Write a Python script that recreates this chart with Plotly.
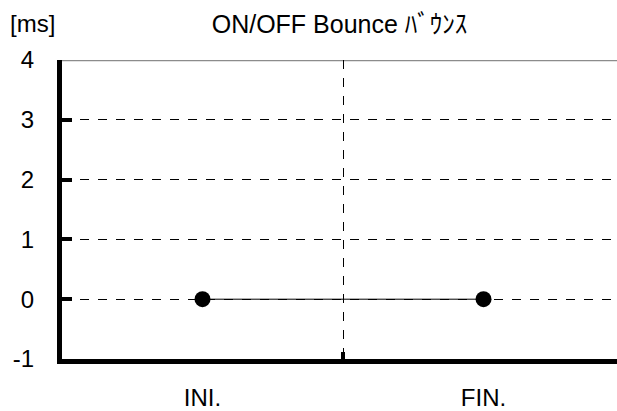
import plotly.graph_objects as go

# data
categories = ['INI.', 'FIN.']
x_pos = [0, 1]
bounce_ms = [0, 0]
y_ticks = [-1, 0, 1, 2, 3, 4]
y_tick_labels = ['-1', '0', '1', '2', '3', '4']

font_family = 'Liberation Sans, Arial, Noto Sans CJK JP, sans-serif'

fig = go.Figure()

fig.add_trace(go.Scatter(
    x=x_pos, y=bounce_ms,
    mode='lines+markers',
    line=dict(color='black', width=1),
    marker=dict(color='black', size=16),
    showlegend=False,
    cliponaxis=False,
))

# solid gray line at the top of the plot area
fig.add_shape(type='line', xref='paper', yref='y', x0=0, x1=1, y0=4, y1=4,
              line=dict(color='#8c8c8c', width=2.5), layer='below')

fig.update_layout(
    width=617, height=411,
    margin=dict(l=62, r=0, t=60, b=50),
    paper_bgcolor='white', plot_bgcolor='white',
    font=dict(family=font_family, color='black'),
    title=dict(text='ON/OFF Bounce ﾊﾞｳﾝｽ', x=0.5, xref='paper', xanchor='center',
               y=0.942, yref='container', yanchor='middle',
               font=dict(size=25, family=font_family)),
    annotations=[dict(text='[ms]', xref='paper', yref='paper', x=-0.097, y=1.123,
                      xanchor='left', yanchor='middle', showarrow=False,
                      font=dict(size=24, family=font_family))],
)

fig.update_xaxes(
    range=[-0.5, 1.475],
    tickmode='array', tickvals=x_pos, ticktext=categories,
    ticks='', showgrid=False, zeroline=False,
    showline=True, linecolor='black', linewidth=5,
    tickfont=dict(size=24), ticklabelstandoff=13,
    minor=dict(tickvals=[0.5], ticks='inside', ticklen=7, tickwidth=4,
               tickcolor='black', showgrid=True, gridcolor='black',
               gridwidth=1, griddash='dash'),
)

fig.update_yaxes(
    range=[-1, 4],
    tickmode='array', tickvals=y_ticks, ticktext=y_tick_labels,
    ticks='inside', ticklen=10, tickwidth=4, tickcolor='black',
    showgrid=True, gridcolor='black', gridwidth=1, griddash='dash',
    zeroline=False,
    showline=True, linecolor='black', linewidth=5,
    tickfont=dict(size=24), ticklabelstandoff=18,
)

# page body has a default margin; drop it so the figure sits at the window corner
fig.write_html('out.html', config={'displayModeBar': False},
               post_script="document.body.style.margin='0';")
